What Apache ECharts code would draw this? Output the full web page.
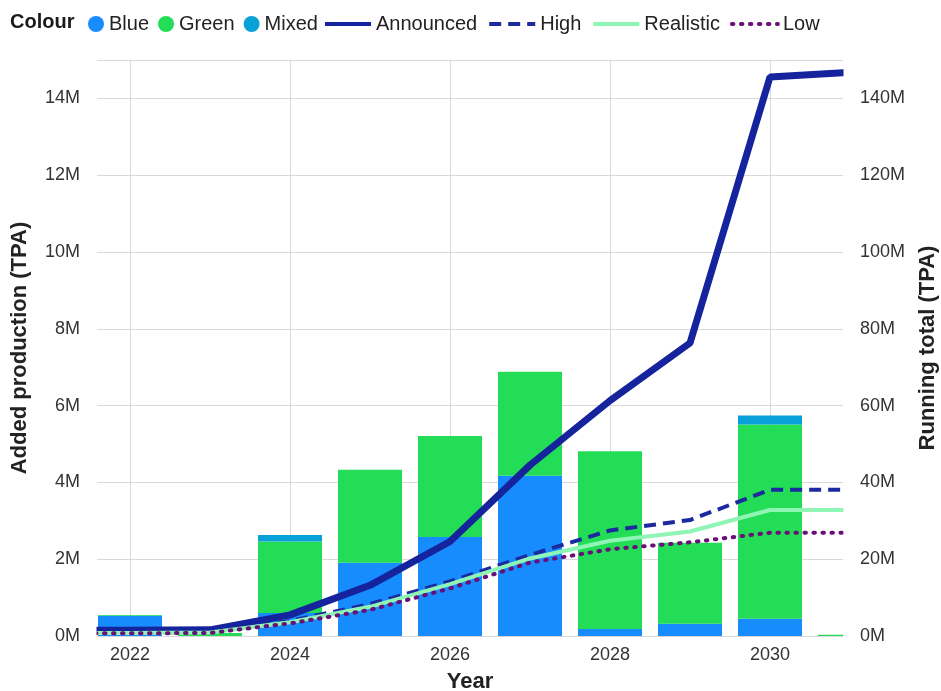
<!DOCTYPE html>
<html>
<head>
<meta charset="utf-8">
<script src="https://cdn.jsdelivr.net/npm/echarts@6/dist/echarts.min.js"></script>
<style>
  html, body { margin: 0; padding: 0; background: #fff; }
  #chart { width: 941px; height: 691px; }
</style>
</head>
<body>
<div id="chart"></div>
<script>
// values in millions of tonnes per annum
const barYears = [2022, 2023, 2024, 2025, 2026, 2027, 2028, 2029, 2030, 2031];
const blue  = [0.53, 0, 0.6, 1.91, 2.58, 4.17, 0.18, 0.32, 0.45, 0];
const green = [0.02, 0.08, 1.86, 2.42, 2.63, 2.71, 4.63, 2.11, 5.06, 0.03];
const mixed = [0, 0, 0.17, 0, 0, 0, 0, 0, 0.23, 0];

const lineYears = [2021, 2022, 2023, 2024, 2025, 2026, 2027, 2028, 2029, 2030, 2031];
const announced = [1.5, 1.5, 1.6, 5.5, 13.2, 24.6, 44.5, 61.3, 76.3, 145.6, 146.8];
const high      = [0.9, 0.9, 1.0, 3.9, 8.3, 14.2, 21.1, 27.5, 30.2, 38.1, 38.1];
const realistic = [0.8, 0.8, 0.9, 3.6, 7.6, 13.5, 20.2, 24.8, 27.2, 32.8, 32.8];
const low       = [0.7, 0.7, 0.8, 3.3, 6.8, 12.4, 19.1, 22.6, 24.4, 26.9, 26.9];

const yearTicks = [2022, 2024, 2026, 2028, 2030];

const chart = echarts.init(document.getElementById("chart"));
const font = "Liberation Sans, Arial, sans-serif";
const gridBox = { left: 97, right: 98, top: 60, bottom: 55 };

// bars: value first so that stacking happens on y, not on the value x axis
function barSeries(name, values, color) {
  return {
    name, type: "bar", stack: "added", barWidth: 64, yAxisIndex: 0,
    encode: { x: 1, y: 0 },
    itemStyle: { color }, data: barYears.map((yr, i) => [values[i], yr]),
  };
}

function lineSeries(name, values, color, width, type, cap, z) {
  return {
    name, type: "line", yAxisIndex: 1, symbol: "none", z,
    lineStyle: { color, width, type, cap },
    itemStyle: { color },
    data: lineYears.map((yr, i) => [yr, values[i]]),
  };
}

const noDot = { color: "rgba(0,0,0,0)", borderWidth: 0, opacity: 0 };

// value axes let bars spill past the grid; white strips hide the overflow
const W = 941, H = 691;
const mask = (x, w) => ({
  type: "rect", z: 10, silent: true,
  shape: { x, y: gridBox.top - 8, width: w, height: H - gridBox.top - gridBox.bottom + 16 },
  style: { fill: "#fff" },
});

chart.setOption({
  animation: false,
  textStyle: { fontFamily: font },
  title: {
    text: "Colour", left: 10, top: 12, padding: 0,
    textStyle: { fontSize: 20, fontWeight: "bold", color: "#1a1a1a", fontFamily: font },
  },
  legend: [
    {
      data: ["Blue", "Green", "Mixed"], left: 88, top: 14, padding: 0, icon: "circle",
      itemWidth: 16, itemHeight: 16, itemGap: 9,
      textStyle: { fontSize: 20, color: "#222" },
    },
    {
      data: ["Announced", "High", "Realistic", "Low"].map(n => ({ name: n, lineStyle: { width: 4 }, itemStyle: noDot })),
      left: 323, top: 14, padding: 0, itemWidth: 46, itemHeight: 16, itemGap: 10,
      textStyle: { fontSize: 20, color: "#222" },
    },
  ],
  graphic: [
    mask(84, gridBox.left - 84 - 0.5),
    mask(W - gridBox.right + 0.5, gridBox.right),
  ],
  grid: { ...gridBox, outerBoundsMode: "none", containLabel: false },
  xAxis: {
    type: "value", min: 2021.5875, max: 2030.9125,
    name: "Year", nameLocation: "middle", nameGap: 35,
    nameTextStyle: { fontSize: 22, fontWeight: "bold", color: "#222" },
    axisLine: { show: false }, axisTick: { show: false, customValues: yearTicks },
    axisLabel: { customValues: yearTicks, fontSize: 18, color: "#333", margin: 10, formatter: v => String(v) },
    splitLine: { show: true, lineStyle: { color: "#d9d9d9" } },
  },
  yAxis: [
    {
      type: "value", min: 0, max: 15, interval: 2,
      name: "Added production (TPA)", nameLocation: "middle", nameGap: 66,
      nameTextStyle: { fontSize: 22, fontWeight: "bold", color: "#222" },
      axisLine: { show: false }, axisTick: { show: false },
      axisLabel: { fontSize: 18, color: "#333", margin: 17, formatter: v => v + "M", showMaxLabel: false },
      splitLine: { lineStyle: { color: "#d9d9d9" } },
    },
    {
      type: "value", min: 0, max: 150, interval: 20, z: 12,
      name: "Running total (TPA)", nameLocation: "middle", nameGap: 74,
      nameTextStyle: { fontSize: 22, fontWeight: "bold", color: "#222" },
      axisLine: { show: false }, axisTick: { show: false },
      axisLabel: { fontSize: 18, color: "#333", margin: 17, formatter: v => v + "M", showMaxLabel: false },
      splitLine: { show: false },
    },
  ],
  series: [
    barSeries("Blue", blue, "#168cff"),
    barSeries("Green", green, "#22dd55"),
    barSeries("Mixed", mixed, "#0aa0d8"),
    lineSeries("Announced", announced, "#15239c", 7, "solid", "butt", 5),
    lineSeries("High", high, "#1b2a9e", 4, [12, 7], "butt", 6),
    lineSeries("Realistic", realistic, "#8ff5b5", 4, "solid", "butt", 7),
    lineSeries("Low", low, "#6a0f78", 4, [1.5, 7.5], "round", 8),
  ],
});
</script>
</body>
</html>
